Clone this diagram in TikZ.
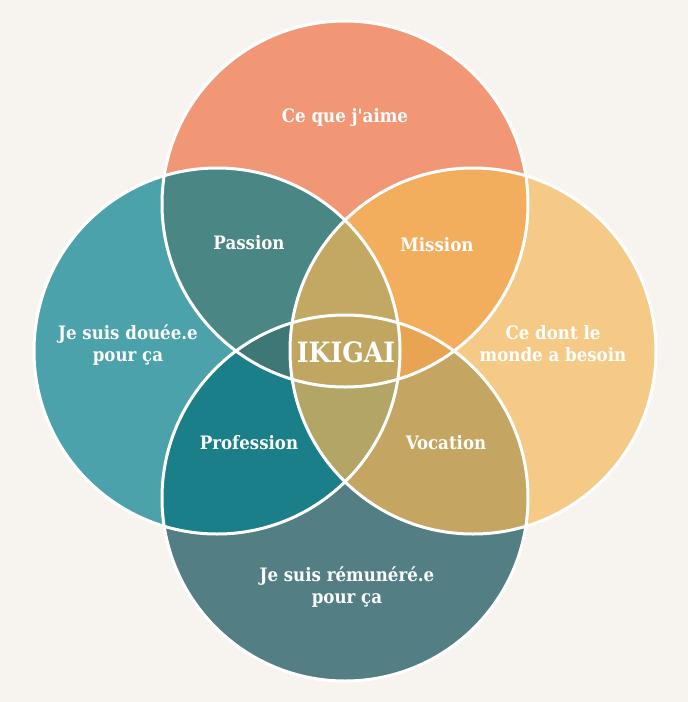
\documentclass[tikz,border=0pt]{standalone}
\usepackage{fontspec}
\setmainfont{DejaVu Serif}
\newfontfamily\ikifont{DejaVu Serif Condensed}
\usepackage{xcolor}
\usepackage{tikz}
\definecolor{bgcream}{HTML}{F7F4EF}
\definecolor{loveC}{HTML}{F29776}
\definecolor{goodC}{HTML}{4BA2AB}
\definecolor{needC}{HTML}{F5CA86}
\definecolor{paidC}{HTML}{527E84}
\definecolor{passionC}{HTML}{4A8784}
\definecolor{missionC}{HTML}{F2AD5D}
\definecolor{professionC}{HTML}{1B7F8A}
\definecolor{vocationC}{HTML}{C4A562}
\definecolor{tlrC}{HTML}{C2A862}
\definecolor{lrbC}{HTML}{B3A565}
\definecolor{tlbC}{HTML}{3E7776}
\definecolor{trbC}{HTML}{E8A453}
\definecolor{ikigaiC}{HTML}{C0A661}
\newcommand{\crad}{183pt}
\tikzset{
  ring/.style={draw=white, line width=3pt},
  lbl/.style={text=white, font=\ikifont\bfseries\fontsize{18.5}{22}\selectfont, align=center, inner sep=1pt},
  bigl/.style={text=white, font=\ikifont\bfseries\fontsize{28}{32}\selectfont, inner sep=1pt},
  ikigai/.style={x=1pt, y=-1pt}
}

\begin{document}
\begin{tikzpicture}[ikigai]
  \fill[bgcream] (0,0) rectangle (688,702);
  \coordinate (cTop) at (345,204);
  \coordinate (cLeft) at (217,351);
  \coordinate (cRight) at (473,351);
  \coordinate (cBot) at (345,498);
  % the four circles
  \fill[loveC] (cTop) circle[radius=\crad];
  \fill[goodC] (cLeft) circle[radius=\crad];
  \fill[needC] (cRight) circle[radius=\crad];
  \fill[paidC] (cBot) circle[radius=\crad];
  % two by two
  \begin{scope} \clip (cTop) circle[radius=\crad]; \fill[passionC] (cLeft) circle[radius=\crad]; \end{scope}
  \begin{scope} \clip (cTop) circle[radius=\crad]; \fill[missionC] (cRight) circle[radius=\crad]; \end{scope}
  \begin{scope} \clip (cBot) circle[radius=\crad]; \fill[professionC] (cLeft) circle[radius=\crad]; \end{scope}
  \begin{scope} \clip (cBot) circle[radius=\crad]; \fill[vocationC] (cRight) circle[radius=\crad]; \end{scope}
  % three by three
  \begin{scope} \clip (cLeft) circle[radius=\crad]; \clip (cRight) circle[radius=\crad]; \fill[tlrC] (cTop) circle[radius=\crad]; \end{scope}
  \begin{scope} \clip (cLeft) circle[radius=\crad]; \clip (cRight) circle[radius=\crad]; \fill[lrbC] (cBot) circle[radius=\crad]; \end{scope}
  \begin{scope} \clip (cTop) circle[radius=\crad]; \clip (cBot) circle[radius=\crad]; \fill[tlbC] (cLeft) circle[radius=\crad]; \end{scope}
  \begin{scope} \clip (cTop) circle[radius=\crad]; \clip (cBot) circle[radius=\crad]; \fill[trbC] (cRight) circle[radius=\crad]; \end{scope}
  % all four
  \begin{scope}
    \clip (cTop) circle[radius=\crad]; \clip (cBot) circle[radius=\crad]; \clip (cLeft) circle[radius=\crad];
    \fill[ikigaiC] (cRight) circle[radius=\crad];
  \end{scope}
  % white outlines
  \draw[ring] (cTop) circle[radius=\crad];
  \draw[ring] (cLeft) circle[radius=\crad];
  \draw[ring] (cRight) circle[radius=\crad];
  \draw[ring] (cBot) circle[radius=\crad];
  % labels
  \node[lbl] (love) at (345,118) {Ce que j'aime};
  \node[lbl] (good) at (128,345) {Je suis douée.e\\pour ça};
  \node[lbl] (need) at (553,344) {Ce dont le\\monde a besoin};
  \node[lbl] (paid) at (347,587) {Je suis rémunéré.e\\pour ça};
  \node[lbl] (passion) at (249,243) {Passion};
  \node[lbl] (mission) at (437,245) {Mission};
  \node[lbl] (profession) at (249,443) {Profession};
  \node[lbl] (vocation) at (446,443) {Vocation};
  \node[bigl] (iki) at (346,352) {IKIGAI};
\end{tikzpicture}
\end{document}
